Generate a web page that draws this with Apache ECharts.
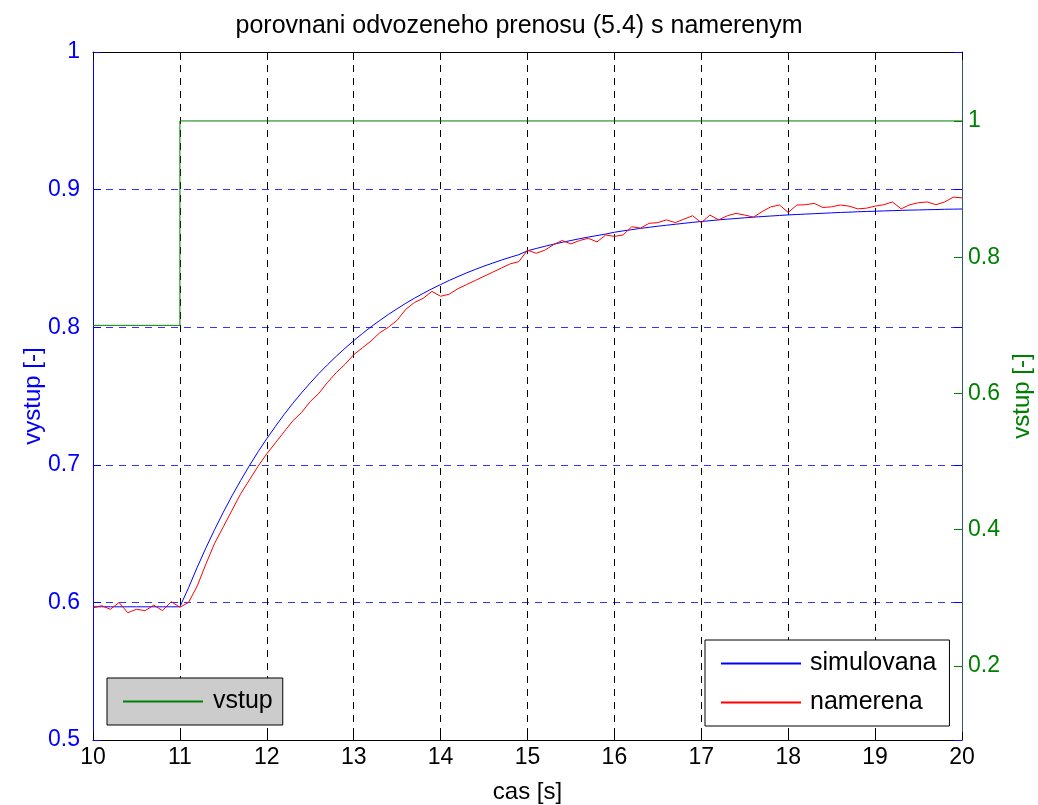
<!DOCTYPE html>
<html>
<head>
<meta charset="utf-8">
<script src="https://cdn.jsdelivr.net/npm/echarts@6/dist/echarts.min.js"></script>
<style>html,body{margin:0;padding:0;background:#fff}#c{width:1038px;height:805px}</style>
</head>
<body>
<div id="c"></div>
<script>
// time base: samples every 0.1 s from 10 s to 20 s
const tStart = 10, tStep = 0.1;
const simulovana = [
 0.5968,0.5968,0.5968,0.5968,0.5968,0.5968,0.5968,0.5968,0.5968,0.5968,
 0.5968,0.6107,0.6256,0.6397,0.6530,0.6656,0.6775,0.6887,0.6994,0.7095,
 0.7190,0.7280,0.7366,0.7447,0.7523,0.7595,0.7664,0.7728,0.7789,0.7847,
 0.7902,0.7954,0.8003,0.8049,0.8093,0.8134,0.8174,0.8211,0.8246,0.8279,
 0.8310,0.8340,0.8368,0.8395,0.8420,0.8444,0.8466,0.8488,0.8508,0.8527,
 0.8555,0.8572,0.8588,0.8603,0.8617,0.8630,0.8643,0.8655,0.8666,0.8677,
 0.8690,0.8700,0.8709,0.8718,0.8726,0.8734,0.8741,0.8748,0.8755,0.8762,
 0.8768,0.8774,0.8780,0.8785,0.8790,0.8795,0.8800,0.8804,0.8808,0.8812,
 0.8816,0.8819,0.8822,0.8825,0.8828,0.8831,0.8834,0.8836,0.8839,0.8841,
 0.8843,0.8845,0.8847,0.8849,0.8851,0.8852,0.8854,0.8855,0.8857,0.8858,
 0.8859
];
const namerena = [
 0.5960,0.5976,0.5950,0.5999,0.5925,0.5950,0.5940,0.5980,0.5940,0.6005,
 0.5965,0.6000,0.6120,0.6280,0.6430,0.6550,0.6670,0.6790,0.6890,0.6990,
 0.7080,0.7160,0.7240,0.7320,0.7380,0.7460,0.7520,0.7600,0.7670,0.7730,
 0.7800,0.7850,0.7900,0.7960,0.8000,0.8050,0.8130,0.8180,0.8210,0.8260,
 0.8225,0.8240,0.8280,0.8310,0.8340,0.8370,0.8400,0.8430,0.8460,0.8476,
 0.8560,0.8537,0.8560,0.8600,0.8630,0.8605,0.8630,0.8646,0.8620,0.8670,
 0.8660,0.8670,0.8730,0.8720,0.8755,0.8760,0.8780,0.8760,0.8785,0.8810,
 0.8760,0.8815,0.8780,0.8810,0.8827,0.8815,0.8800,0.8840,0.8875,0.8888,
 0.8834,0.8888,0.8890,0.8900,0.8870,0.8875,0.8888,0.8880,0.8860,0.8865,
 0.8880,0.8890,0.8910,0.8860,0.8890,0.8905,0.8910,0.8890,0.8910,0.8945,
 0.8940
];
const vstupTimes = [10, 11, 11, 20];
const vstupValues = [0.7, 0.7, 1.0, 1.0];
const rightTicks = [0.2, 0.4, 0.6, 0.8, 1];

const pairs = arr => arr.map((v,i) => [+(tStart + i*tStep).toFixed(2), v]);
const FONT = "'Liberation Sans', Arial, sans-serif";
const fmt1 = v => (Math.round(v*10)/10).toString();

const chart = echarts.init(document.getElementById('c'), null, {renderer:'canvas'});
chart.setOption({
  animation: false,
  backgroundColor: '#fff',
  title: {
    text: 'porovnani odvozeneho prenosu (5.4) s namerenym',
    left: 'center', top: 9,
    textStyle: {fontFamily: FONT, fontSize: 25, fontWeight: 'normal', color: '#000'}
  },
  grid: {left: 93, right: 76, top: 52, bottom: 65, containLabel: false, outerBoundsMode: 'none'},
  legend: [
    {
      data: ['vstup'], left: 107, top: 678, orient: 'vertical', icon: 'rect',
      backgroundColor: '#cccccc', borderColor: '#000', borderWidth: 1, borderRadius: 0,
      padding: [11, 10, 11, 16], itemWidth: 80, itemHeight: 2, itemGap: 10,
      textStyle: {fontFamily: FONT, fontSize: 25, color: '#000', padding: [0, 0, 0, 5]}
    },
    {
      data: ['simulovana','namerena'], left: 705, top: 640, orient: 'vertical', icon: 'rect',
      backgroundColor: '#fff', borderColor: '#000', borderWidth: 1, borderRadius: 0,
      padding: [11, 13, 11, 16], itemWidth: 80, itemHeight: 2, itemGap: 14,
      textStyle: {fontFamily: FONT, fontSize: 25, color: '#000', padding: [0, 0, 0, 4]}
    }
  ],
  xAxis: [
    {
      type: 'value', min: 10, max: 20, interval: 1, position: 'bottom',
      name: 'cas [s]', nameLocation: 'middle', nameGap: 40, nameMoveOverlap: false,
      nameTextStyle: {fontFamily: FONT, fontSize: 24, color: '#000'},
      axisLine: {show: true, lineStyle: {color: '#000', width: 1}},
      axisTick: {show: true, inside: true, length: 8, lineStyle: {color: '#000'}},
      axisLabel: {fontFamily: FONT, fontSize: 23, color: '#000', margin: 6},
      splitLine: {show: true, lineStyle: {color: '#000', type: [7, 6], width: 1}}
    },
    {
      type: 'value', min: 10, max: 20, interval: 1, position: 'top',
      axisLine: {show: true, lineStyle: {color: '#000', width: 1}},
      axisTick: {show: true, inside: true, length: 8, lineStyle: {color: '#000'}},
      axisLabel: {show: false}, splitLine: {show: false}
    }
  ],
  yAxis: [
    {
      type: 'value', min: 0.5, max: 1, interval: 0.1, position: 'left',
      name: 'vystup [-]', nameLocation: 'middle', nameGap: 48, nameRotate: 90, nameMoveOverlap: false,
      nameTextStyle: {fontFamily: FONT, fontSize: 24, color: '#0000ff'},
      axisLine: {show: true, lineStyle: {color: '#0000ff', width: 1}},
      axisTick: {show: true, inside: true, length: 8, lineStyle: {color: '#0000ff'}},
      axisLabel: {fontFamily: FONT, fontSize: 23, color: '#0000ff', margin: 13, formatter: fmt1},
      splitLine: {show: true, lineStyle: {color: '#3333ff', type: [7, 6], width: 1}}
    },
    {
      type: 'value', min: 0.0914, max: 1.1012, position: 'right', alignTicks: false,
      name: 'vstup [-]', nameLocation: 'middle', nameGap: 48, nameRotate: 90, nameMoveOverlap: false,
      nameTextStyle: {fontFamily: FONT, fontSize: 24, color: '#008000'},
      axisLine: {show: true, lineStyle: {color: '#2b5b6b', width: 1}},
      axisTick: {show: true, inside: true, length: 8, lineStyle: {color: '#008000'},
        customValues: rightTicks},
      axisLabel: {fontFamily: FONT, fontSize: 23, color: '#008000', margin: 6,
        formatter: fmt1, customValues: rightTicks},
      splitLine: {show: false}, splitArea: {show: false}, minorSplitLine: {show: false}
    },
    {
      type: 'value', min: 0.5, max: 1, interval: 0.1, position: 'right',
      axisLine: {show: false},
      axisTick: {show: true, inside: true, length: 8, lineStyle: {color: '#0000ff'}},
      axisLabel: {show: false}, splitLine: {show: false}
    }
  ],
  series: [
    {
      name: 'vstup', type: 'line', xAxisIndex: 0, yAxisIndex: 1,
      data: vstupTimes.map((t,i) => [t, vstupValues[i]]),
      showSymbol: false, symbol: 'none',
      lineStyle: {color: '#008000', width: 1}, itemStyle: {color: '#008000'}, z: 3
    },
    {
      name: 'simulovana', type: 'line', yAxisIndex: 0,
      data: pairs(simulovana), showSymbol: false, symbol: 'none',
      lineStyle: {color: '#0000ff', width: 1}, itemStyle: {color: '#0000ff'}, z: 4
    },
    {
      name: 'namerena', type: 'line', yAxisIndex: 0,
      data: pairs(namerena), showSymbol: false, symbol: 'none',
      lineStyle: {color: '#ff0000', width: 1}, itemStyle: {color: '#ff0000'}, z: 5
    }
  ]
});
</script>
</body>
</html>
